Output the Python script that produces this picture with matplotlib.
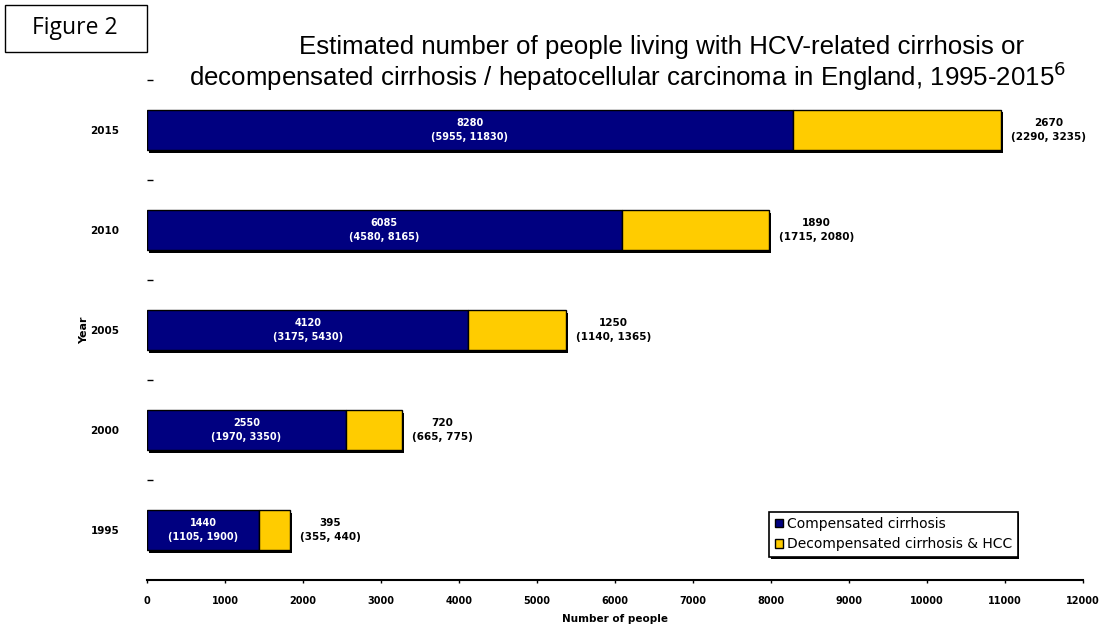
import matplotlib
matplotlib.use("Agg")
import matplotlib.pyplot as plt
import matplotlib.patheffects as pe
from matplotlib.patches import Patch, Rectangle

years = ["1995", "2000", "2005", "2010", "2015"]
compensated = [1440, 2550, 4120, 6085, 8280]
compensated_ci = ["(1105, 1900)", "(1970, 3350)", "(3175, 5430)", "(4580, 8165)", "(5955, 11830)"]
decompensated = [395, 720, 1250, 1890, 2670]
decompensated_ci = ["(355, 440)", "(665, 775)", "(1140, 1365)", "(1715, 2080)", "(2290, 3235)"]
x_ticks = list(range(0, 12001, 1000))

navy = "#000080"
gold = "#FFCC00"

fig = plt.figure(figsize=(11.05, 6.28), dpi=100)
ax = fig.add_axes([147 / 1105, 1 - 580 / 628, 936 / 1105, 500 / 628])

pos = list(range(len(years)))
shadow = [pe.SimplePatchShadow(offset=(1.2, -1.8), shadow_rgbFace="black", alpha=1.0), pe.Normal()]
b1 = ax.barh(pos, compensated, height=0.4, color=navy, edgecolor="black", linewidth=1.0)
b2 = ax.barh(pos, decompensated, left=compensated, height=0.4, color=gold, edgecolor="black", linewidth=1.0)
for p in list(b1) + list(b2):
    p.set_path_effects(shadow)

for i in pos:
    ax.text(compensated[i] / 2, i, f"{compensated[i]}\n{compensated_ci[i]}", color="white",
            fontsize=7, fontweight="bold", ha="center", va="center", linespacing=1.45,
            multialignment="center")
    total = compensated[i] + decompensated[i]
    ax.annotate(f"{decompensated[i]}\n{decompensated_ci[i]}", xy=(total, i), xytext=(7, 0),
                textcoords="offset points", color="black", fontsize=7.5, fontweight="bold",
                ha="left", va="center", linespacing=1.4, multialignment="center")

ax.set_xlim(0, 12000)
ax.set_ylim(-0.5, 4.5)
ax.set_xticks(x_ticks)
ax.set_xticklabels([str(t) for t in x_ticks], fontsize=7, fontweight="bold")
ax.set_yticks(pos)
ax.set_yticklabels(years, fontsize=7.5, fontweight="bold")
ax.set_yticks([p + 0.5 for p in pos], minor=True)
ax.tick_params(axis="y", which="major", length=0, pad=20)
ax.tick_params(axis="y", which="minor", length=4, width=1, direction="in", color="black")
ax.tick_params(axis="x", which="major", length=2.5, width=1, direction="out", pad=9)
for s in ["top", "right", "left"]:
    ax.spines[s].set_visible(False)
ax.spines["bottom"].set_linewidth(1.5)

ax.set_xlabel("Number of people", fontsize=7.5, fontweight="bold", labelpad=6)
ax.set_ylabel("Year", fontsize=8, fontweight="bold", labelpad=1)

fig.text(662 / 1105, 1 - 47 / 628, "Estimated number of people living with HCV-related cirrhosis or",
         ha="center", va="center", fontsize=18.6, family="Liberation Sans")
fig.text(628 / 1105, 1 - 76 / 628,
         r"decompensated cirrhosis / hepatocellular carcinoma in England, 1995-2015$^{6}$",
         ha="center", va="center", fontsize=18.6, family="Liberation Sans")

fig.text(75 / 1105, 1 - 28 / 628, "Figure 2", ha="center", va="center", fontsize=16.5,
         family="Open Sans")
fig.patches.append(Rectangle((5 / 1105, 1 - 52 / 628), 142 / 1105, 47 / 628,
                             transform=fig.transFigure, fill=False, edgecolor="black",
                             linewidth=1.0))

handles = [Patch(facecolor=navy, edgecolor="black", label="Compensated cirrhosis"),
           Patch(facecolor=gold, edgecolor="black", label="Decompensated cirrhosis & HCC")]
leg = ax.legend(handles=handles, loc="lower left", bbox_to_anchor=(0.665, 0.046),
                fontsize=10, frameon=True, fancybox=False, framealpha=1.0,
                handlelength=0.55, handleheight=0.55, handletextpad=0.3, borderpad=0.4,
                labelspacing=0.45, borderaxespad=0)
leg.get_frame().set_edgecolor("black")
leg.get_frame().set_facecolor("white")
leg.get_frame().set_linewidth(1.2)
leg.get_frame().set_path_effects([pe.SimplePatchShadow(offset=(1.2, -1.2), shadow_rgbFace="black", alpha=1.0), pe.Normal()])

fig.savefig("out.png", dpi=100)
